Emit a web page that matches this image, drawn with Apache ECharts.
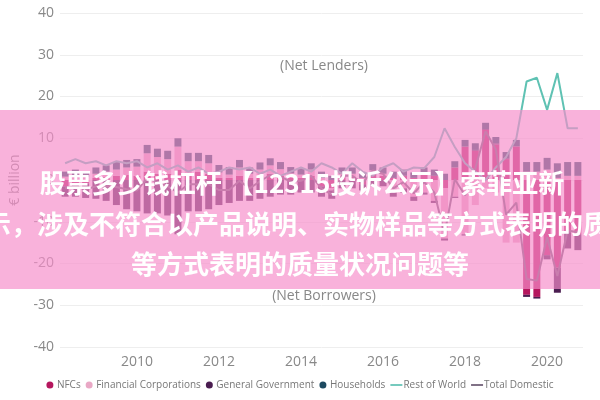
<!DOCTYPE html>
<html><head><meta charset="utf-8">
<script src="https://cdn.jsdelivr.net/npm/echarts@6/dist/echarts.min.js"></script>
<style>html,body{margin:0;padding:0;background:#fff}#c{width:600px;height:400px}</style>
</head><body><div id="c"></div>
<script>
const categories = ["2008Q2","2008Q3","2008Q4","2009Q1","2009Q2","2009Q3","2009Q4","2010Q1","2010Q2","2010Q3","2010Q4",
"2011Q1","2011Q2","2011Q3","2011Q4","2012Q1","2012Q2","2012Q3","2012Q4","2013Q1","2013Q2","2013Q3","2013Q4",
"2014Q1","2014Q2","2014Q3","2014Q4","2015Q1","2015Q2","2015Q3","2015Q4","2016Q1","2016Q2","2016Q3","2016Q4",
"2017Q1","2017Q2","2017Q3","2017Q4","2018Q1","2018Q2","2018Q3","2018Q4","2019Q1","2019Q2","2019Q3","2019Q4",
"2020Q1","2020Q2","2020Q3","2020Q4"];
const nfcs = [-1.5,-1,-0.8,0.5,0.8,1,1.2,1,2,1.5,1.5,2.5,1.5,2,1.5,0.5,0.5,1,0.5,1,1.5,1,0.6,0.5,1,-1.5,-2,1,0.8,-1,1.5,1,0.5,1,0.5,1.5,1,-2,3,8,7,12,8.5,5,8,-27.5,-28,-18,-21,-12.5,-13];
const financial = [0.8,1.2,0.8,1,1.2,1.5,1.8,2.2,4.4,4,3.5,5.5,3,2.5,2.5,1.3,0.8,2,1,1.5,2,1.6,1,0.8,1.5,0.5,-0.5,0.5,0.7,0.5,0.8,0.5,-3,-2,-4,-3,-5,-12,-4,-13,-6,-2,-3,-15,-15,2,2,2.5,0.5,1,1];
const government = [-2.5,-3,-3.5,-4.5,-5,-6,-7,-7.5,-8,-8,-8.5,-13,-7.5,-7.5,-7,-6,-5.5,-5,-5,-4.5,-4,-3.5,-3.5,-3,-3,-2.5,-2,-2,-2,-1.5,-1.5,-1.5,-1,-1,-1,-0.5,-0.5,-0.5,-0.3,-0.3,0.2,0.2,0.3,0.2,0.1,-0.5,-0.4,-1,-6,-3.9,-3.8];
const households = [1.2,1.3,1.2,1.5,1.5,1.8,1.8,1.8,2,2,2,2,2,2,2,1.8,1.8,1.8,1.5,1.7,1.7,1.7,1.5,1.5,1.5,1.5,1,1.5,1.5,1.2,1.5,1.5,1.5,1.5,1.3,1.5,1.5,1.5,1.5,1.6,1.6,1.5,1.5,1.5,1.5,2.3,2.3,2.8,3.5,3.3,3.3];
const restOfWorld = [4,5,4,4.5,3.5,4.5,4,4.5,3,4,2.5,3.5,2,3,1.5,2,3,2.5,3,1.5,2.5,1,2,3,2,4,3,1.5,4,2,1,3,4,2,3,2.8,5.5,12.4,7.9,4,2,0,3,5.5,10,23.6,24.5,16.8,25.6,12.4,12.4];
const totalDomestic = [-2,-1.5,-2.3,-1.5,-1.5,-1.7,-2.2,-2.5,0.4,-0.5,-1.5,-3,-1,-1,-1,-2.4,-2.4,-0.2,-2,-0.3,1.2,0.8,-0.4,-0.2,1,-2,-3.5,1,1,-0.8,2.3,1.5,-2,-0.5,-3.2,-0.5,-3,-13,0.2,-3.7,2.8,11.7,7.3,-8.3,-5.4,-23.7,-24.1,-13.7,-23,-12.1,-12.5];
const yTicks = {min:-40, max:40, interval:10};
const legendNames = ["NFCs","Financial Corporations","General Government","Households","Rest of World","Total Domestic"];

const colors = ['#b5175e','#e9a8c5','#4a1d50','#1d4a60','#5fc2b3','#6b5a72'];
const font = '"Open Sans", "Noto Sans", sans-serif';
const chart = echarts.init(document.getElementById('c'), null, {renderer:'canvas'});
const barSeries = [nfcs, financial, government, households].map((d,i)=>({
  name: legendNames[i], type:'bar', stack:'s', data:d, barWidth:'68%',
  itemStyle:{color:colors[i]}
}));
const lineSeries = [restOfWorld, totalDomestic].map((d,i)=>({
  name: legendNames[4+i], type:'line', data:d, showSymbol:false, symbol:'none',
  lineStyle:{color:colors[4+i], width:2}, itemStyle:{color:colors[4+i]}, z:5
}));
const linePath = 'path://M0,0h14v2h-14z';
chart.setOption({
  animation:false,
  color: colors,
  grid:{left:55, right:17, top:13, bottom:53},
  xAxis:{type:'category', data:categories,
    axisLine:{show:false}, axisTick:{show:false},
    axisLabel:{color:'#888', fontSize:14, fontFamily:font, margin:8,
      interval:(idx,v)=> v.endsWith('Q1') && (+v.slice(0,4))%2===0,
      formatter:v=>v.slice(0,4)}},
  yAxis:{type:'value', min:yTicks.min, max:yTicks.max, interval:yTicks.interval,
    name:'€ billion', nameLocation:'middle', nameGap:38,
    nameTextStyle:{color:'#888', fontSize:14, fontFamily:font},
    axisLabel:{color:'#888', fontSize:14, fontFamily:font, margin:6},
    splitLine:{lineStyle:{color:'#eeeeee'}}},
  legend:{bottom:5, left:'center', itemGap:5, itemWidth:12, itemHeight:7,
    textStyle:{color:'#777', fontSize:10, fontFamily:font, padding:[0,0,0,-4]},
    data:[
      {name:legendNames[0], icon:'circle'},
      {name:legendNames[1], icon:'circle'},
      {name:legendNames[2], icon:'circle'},
      {name:legendNames[3], icon:'circle'},
      {name:legendNames[4], icon:linePath},
      {name:legendNames[5], icon:linePath}]},
  series: barSeries.concat(lineSeries),
  graphic:[
    {type:'text', x:324, y:66, z:50, style:{text:'(Net Lenders)', fill:'#888', font:'14px '+font, textAlign:'center', textVerticalAlign:'middle'}},
    {type:'text', x:324, y:296, z:50, style:{text:'(Net Borrowers)', fill:'#888', font:'14px '+font, textAlign:'center', textVerticalAlign:'middle'}},
    {type:'rect', z:100, shape:{x:0, y:110, width:600, height:179}, style:{fill:'rgba(246,142,202,0.68)'}},
    {type:'text', x:302, y:183, z:101, style:{text:'股票多少钱杠杆 【12315投诉公示】索菲亚新', fill:'#fff', font:'bold 26px "Noto Sans CJK SC"', textAlign:'center', textVerticalAlign:'middle'}},
    {type:'text', x:297, y:224, z:101, style:{text:'示，涉及不符合以产品说明、实物样品等方式表明的质', fill:'#fff', font:'bold 26px "Noto Sans CJK SC"', textAlign:'center', textVerticalAlign:'middle'}},
    {type:'text', x:300, y:264, z:101, style:{text:'等方式表明的质量状况问题等', fill:'#fff', font:'bold 26px "Noto Sans CJK SC"', textAlign:'center', textVerticalAlign:'middle'}}
  ]
});
</script></body></html>
